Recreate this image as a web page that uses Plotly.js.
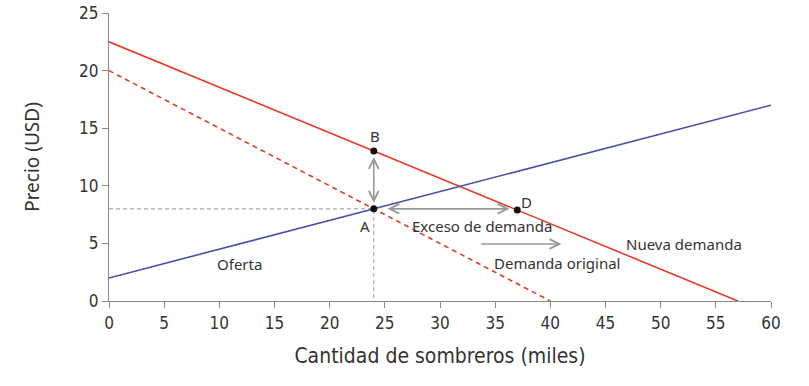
<!DOCTYPE html>
<html>
<head>
<meta charset="utf-8">
<script src="https://cdn.plot.ly/plotly-3.0.1.min.js"></script>
<style>html,body{margin:0;padding:0;background:#fff;}#chart{width:809px;height:386px;}</style>
</head>
<body>
<div id="chart"></div>
<script>
// Data
const supplyX = [0, 60];
const supplyY = [2, 17];
const newDemandX = [0, 57];
const newDemandY = [22.5, 0];
const origDemandX = [0, 40];
const origDemandY = [20, 0];
const pointNames = ['A', 'B', 'D'];
const pointX = [24, 24, 37];
const pointY = [8, 13.03, 7.9];
const guideX = [0, 24, 24];
const guideY = [8, 8, 0];
const xTicks = [0, 5, 10, 15, 20, 25, 30, 35, 40, 45, 50, 55, 60];
const yTicks = [0, 5, 10, 15, 20, 25];

const red = '#e33b2b';
const blue = '#4a4fa6';
const grey = '#999999';
const txt = '#333333';
const labelFont = {family: 'Noto Sans, Open Sans, sans-serif', size: 15, color: txt};

const traces = [
  {x: guideX, y: guideY, mode: 'lines', line: {color: grey, width: 1, dash: '4px,3px'}, hoverinfo: 'skip'},
  {x: origDemandX, y: origDemandY, mode: 'lines', line: {color: red, width: 1.6, dash: '5px,4px'}},
  {x: newDemandX, y: newDemandY, mode: 'lines', line: {color: red, width: 1.6}},
  {x: supplyX, y: supplyY, mode: 'lines', line: {color: blue, width: 1.6}},
  {x: pointX, y: pointY, mode: 'markers', marker: {color: '#111', size: 7}, text: pointNames}
];

function arrow(x0, y0, x1, y1, both) {
  return {x: x1, y: y1, ax: x0, ay: y0, xref: 'x', yref: 'y', axref: 'x', ayref: 'y',
    showarrow: true, text: '', arrowhead: 5, startarrowhead: 5, arrowsize: 1.2, startarrowsize: 1.2,
    arrowwidth: 1.6, arrowcolor: grey, arrowside: both ? 'end+start' : 'end'};
}
function label(t, x, y) {
  return {x: x, y: y, xref: 'x', yref: 'y', text: t, showarrow: false, font: labelFont};
}

const annotations = [
  arrow(24, 8.4, 24, 12.5, true),
  arrow(25.1, 8, 36.3, 8, true),
  arrow(33.6, 4.95, 41, 4.95, false),
  label('A', 23.2, 6.5),
  label('B', 24.1, 14.3),
  label('D', 37.8, 8.6),
  label('Exceso de demanda', 33.8, 6.5),
  label('Demanda original', 40.6, 3.3),
  label('Nueva demanda', 52.1, 4.95),
  label('Oferta', 11.8, 3.2)
];

const tickFont = {family: 'Liberation Sans Narrow, DejaVu Sans Condensed, Roboto, sans-serif', size: 17, color: txt};

const layout = {
  width: 809, height: 386,
  margin: {l: 109, r: 38, t: 13, b: 85},
  paper_bgcolor: '#fff', plot_bgcolor: '#fff',
  showlegend: false,
  xaxis: {range: [0, 60], tickvals: xTicks, ticks: 'outside', ticklen: 6, tickcolor: '#888',
    showline: true, linecolor: '#888', linewidth: 1.2, showgrid: false, zeroline: false,
    tickfont: tickFont,
    title: {text: 'Cantidad de sombreros (miles)', font: {family: 'Liberation Sans Narrow, DejaVu Sans Condensed, sans-serif', size: 21, color: txt}, standoff: 16}},
  yaxis: {range: [0, 25], tickvals: yTicks, ticks: 'outside', ticklen: 6, tickcolor: '#888',
    showline: true, linecolor: '#888', linewidth: 1.2, showgrid: false, zeroline: false,
    tickfont: tickFont,
    title: {text: 'Precio (USD)', font: {family: 'Noto Sans, Open Sans, sans-serif', size: 19, color: txt}, standoff: 34}},
  annotations: annotations
};

Plotly.newPlot('chart', traces, layout, {displayModeBar: false, staticPlot: true});
</script>
</body>
</html>
